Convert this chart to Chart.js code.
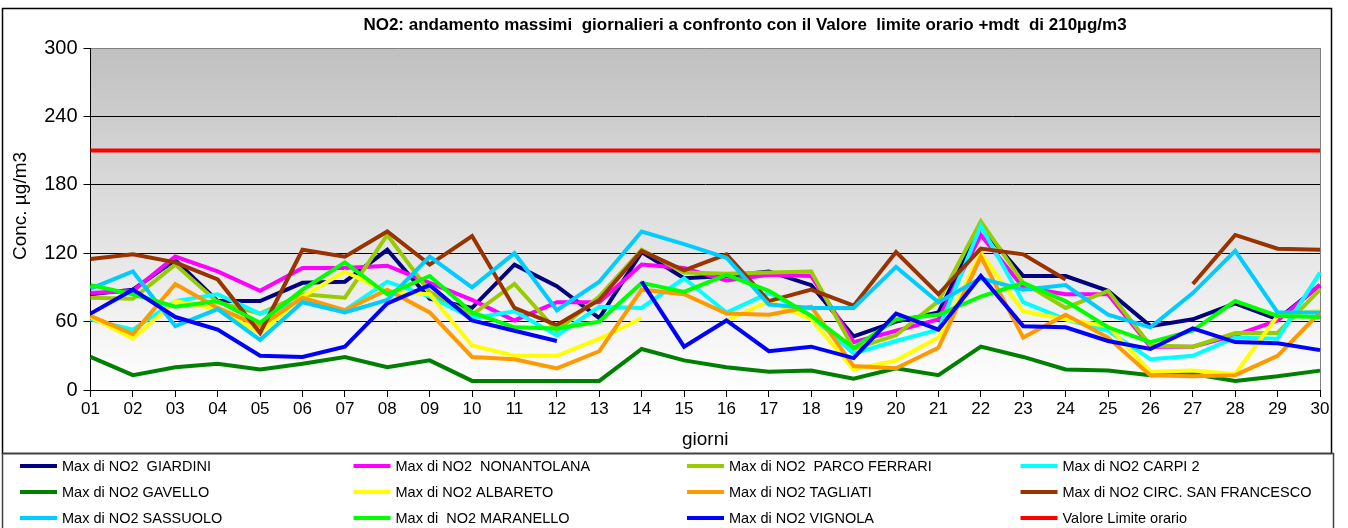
<!DOCTYPE html>
<html>
<head>
<meta charset="utf-8">
<script src="https://cdn.jsdelivr.net/npm/chart.js@4.4.0/dist/chart.umd.min.js"></script>
<style>
  html, body { margin: 0; padding: 0; background: #fff; }
</style>
</head>
<body>
<canvas id="chart" width="1348" height="528"></canvas>
<script>
const days = ['01','02','03','04','05','06','07','08','09','10','11','12','13','14','15',
              '16','17','18','19','20','21','22','23','24','25','26','27','28','29','30'];

const giardini = [84, 88, 114, 78, 78, 94, 95, 123, 80, 72, 110, 91, 63, 121, 98, 100, 104, 92, 47, 60, 68, 143, 100, 100, 87, 56, 62, 76, 62, 92];
const nonantolana = [85, 87, 117, 104, 87, 107, 107, 109, 94, 79, 61, 77, 77, 110, 107, 96, 101, 100, 42, 52, 62, 136, 90, 84, 84, 38, 38, 48, 61, 92];
const parcoFerrari = [81, 80, 110, 77, 67, 84, 81, 136, 86, 66, 93, 52, 82, 123, 103, 102, 103, 104, 36, 48, 78, 148, 94, 72, 87, 39, 38, 50, 50, 88];
const carpi2 = [62, 53, 78, 84, 67, 78, 70, 95, 82, 63, 69, 48, 73, 72, 98, 68, 85, 65, 32, 43, 53, 144, 77, 62, 52, 27, 30, 46, 45, 103];
const gavello = [29, 13, 20, 23, 18, 23, 29, 20, 26, 8, 8, 8, 8, 36, 26, 20, 16, 17, 10, 19, 13, 38, 29, 18, 17, 13, 14, 8, 12, 17];
const albareto = [64, 45, 78, 71, 50, 82, 104, 86, 84, 39, 30, 30, 45, 63, null, 61, 78, 62, 18, 26, 46, 120, 69, 62, 56, 16, 17, 14, 65, 70];
const tagliati = [65, 49, 93, 72, 56, 81, 70, 88, 68, 29, 27, 19, 34, 88, 84, 67, 66, 73, 21, 19, 37, 117, 46, 66, 46, 13, 12, 13, 30, 68];
const circSanFrancesco = [115, 119, 112, 97, 50, 123, 117, 139, 110, 135, 72, 57, 79, 122, 105, 119, 78, 88, 74, 121, 84, 124, 119, 97, null, null, 93, 136, 124, 123];
const sassuolo = [89, 104, 56, 71, 44, 77, 68, 79, 117, 90, 120, 70, 95, 139, 128, 116, 75, 72, 72, 108, 77, 98, 88, 92, 66, 55, 85, 122, 68, 68];
const maranello = [92, 84, 73, 78, 59, 88, 112, 84, 100, 68, 55, 54, 60, 94, 86, 101, 87, 65, 37, 62, 66, 82, 94, 78, 55, 42, 52, 78, 65, 64];
const vignola = [67, 88, 64, 53, 30, 29, 38, 76, 92, 61, 52, 43, null, 95, 38, 61, 34, 38, 28, 67, 53, 100, 56, 55, 43, 36, 54, 42, 41, 35];
const limiteOrario = [210, 210, 210, 210, 210, 210, 210, 210, 210, 210, 210, 210, 210, 210, 210,
                      210, 210, 210, 210, 210, 210, 210, 210, 210, 210, 210, 210, 210, 210, 210];

const yTicks = [0, 60, 120, 180, 240, 300];

const titleText = 'NO2: andamento massimi  giornalieri a confronto con il Valore  limite orario +mdt  di 210\u00b5g/m3';
const yTitle = 'Conc. \u00b5g/m3';

const series = [
  ['Max di NO2  GIARDINI', giardini, '#000080'],
  ['Max di NO2  NONANTOLANA', nonantolana, '#FF00FF'],
  ['Max di NO2  PARCO FERRARI', parcoFerrari, '#99CC00'],
  ['Max di NO2 CARPI 2', carpi2, '#00FFFF'],
  ['Max di NO2 GAVELLO', gavello, '#008000'],
  ['Max di NO2 ALBARETO', albareto, '#FFFF00'],
  ['Max di NO2 TAGLIATI', tagliati, '#FF9900'],
  ['Max di NO2 CIRC. SAN FRANCESCO', circSanFrancesco, '#993300'],
  ['Max di NO2 SASSUOLO', sassuolo, '#00CCFF'],
  ['Max di  NO2 MARANELLO', maranello, '#00FF00'],
  ['Max di NO2 VIGNOLA', vignola, '#0000FF'],
  ['Valore Limite orario', limiteOrario, '#FF0000']
];

const FONT = 'Arial, "Liberation Sans", Helvetica, sans-serif';

// background, frame, title, y title and the boxed legend
const frame = {
  id: 'frame',
  beforeDraw(chart) {
    const { ctx, chartArea: a } = chart;
    ctx.save();
    ctx.fillStyle = '#fff';
    ctx.fillRect(0, 0, chart.width, chart.height);
    const g = ctx.createLinearGradient(0, a.top, 0, a.bottom);
    g.addColorStop(0, '#c0c0c0');
    g.addColorStop(1, '#ffffff');
    ctx.fillStyle = g;
    ctx.fillRect(a.left, a.top, a.right - a.left, a.bottom - a.top);
    ctx.restore();
  },
  beforeDatasetsDraw(chart) {
    const { ctx, chartArea: a } = chart;
    ctx.save();
    ctx.strokeStyle = '#808080';
    ctx.lineWidth = 1;
    ctx.beginPath();
    ctx.moveTo(a.right + 0.5, a.top);
    ctx.lineTo(a.right + 0.5, a.bottom);
    ctx.stroke();
    ctx.restore();
  },
  afterDraw(chart) {
    const { ctx } = chart;
    ctx.save();
    ctx.strokeStyle = '#000';
    ctx.lineWidth = 1.5;
    ctx.strokeRect(2.5, 8.5, 1329, 445);
    ctx.strokeStyle = '#404040';
    ctx.strokeRect(2.5, 453.5, 1331, 80);

    ctx.fillStyle = '#000';
    ctx.font = 'bold 17px ' + FONT;
    ctx.textAlign = 'center';
    ctx.textBaseline = 'middle';
    ctx.fillText(titleText, 745, 25);

    ctx.save();
    ctx.translate(21, 206);
    ctx.rotate(-Math.PI / 2);
    ctx.font = '19px ' + FONT;
    ctx.fillText(yTitle, 0, 0);
    ctx.restore();

    ctx.font = '14.5px ' + FONT;
    ctx.textAlign = 'left';
    chart.data.datasets.forEach((ds, i) => {
      const col = i % 4, row = Math.floor(i / 4);
      const x = 20 + col * 333.5;
      const y = 466 + row * 26;
      ctx.strokeStyle = ds.borderColor;
      ctx.lineWidth = 4;
      ctx.beginPath();
      ctx.moveTo(x, y);
      ctx.lineTo(x + 37, y);
      ctx.stroke();
      ctx.fillText(ds.label, x + 42, y + 1);
    });
    ctx.restore();
  }
};

const n = series.length;
const datasets = series.map(([label, data, color], i) => ({
  label, data,
  borderColor: color,
  backgroundColor: color,
  borderWidth: 4,
  pointRadius: 0,
  tension: 0,
  spanGaps: false,
  order: n - i
}));

new Chart(document.getElementById('chart'), {
  type: 'line',
  data: { labels: days, datasets },
  options: {
    responsive: false,
    animation: false,
    events: [],
    layout: { padding: { left: 0, right: 28, top: 48, bottom: 75 } },
    plugins: { legend: { display: false }, title: { display: false }, tooltip: { enabled: false } },
    scales: {
      x: {
        offset: false,
        afterFit: s => { s.height = 63; },
        grid: { drawOnChartArea: false, drawTicks: true, tickLength: 7, tickColor: '#000' },
        border: { color: '#000', width: 1 },
        ticks: { color: '#000', font: { family: FONT, size: 17 }, padding: 2, maxRotation: 0, autoSkip: false },
        title: { display: true, text: 'giorni', color: '#000', font: { family: FONT, size: 19 }, padding: { top: 0, bottom: 2 } }
      },
      y: {
        min: 0, max: 300,
        afterFit: s => { s.width = 90.5; },
        afterBuildTicks: s => { s.ticks = yTicks.map(v => ({ value: v })); },
        grid: {
          color: c => (c.tick && c.tick.value === 300) ? '#808080' : '#000',
          lineWidth: 1, tickLength: 7, tickColor: '#000'
        },
        border: { color: '#000', width: 1 },
        ticks: { color: '#000', font: { family: FONT, size: 20 }, padding: 6 }
      }
    }
  },
  plugins: [frame]
});
</script>
</body>
</html>
